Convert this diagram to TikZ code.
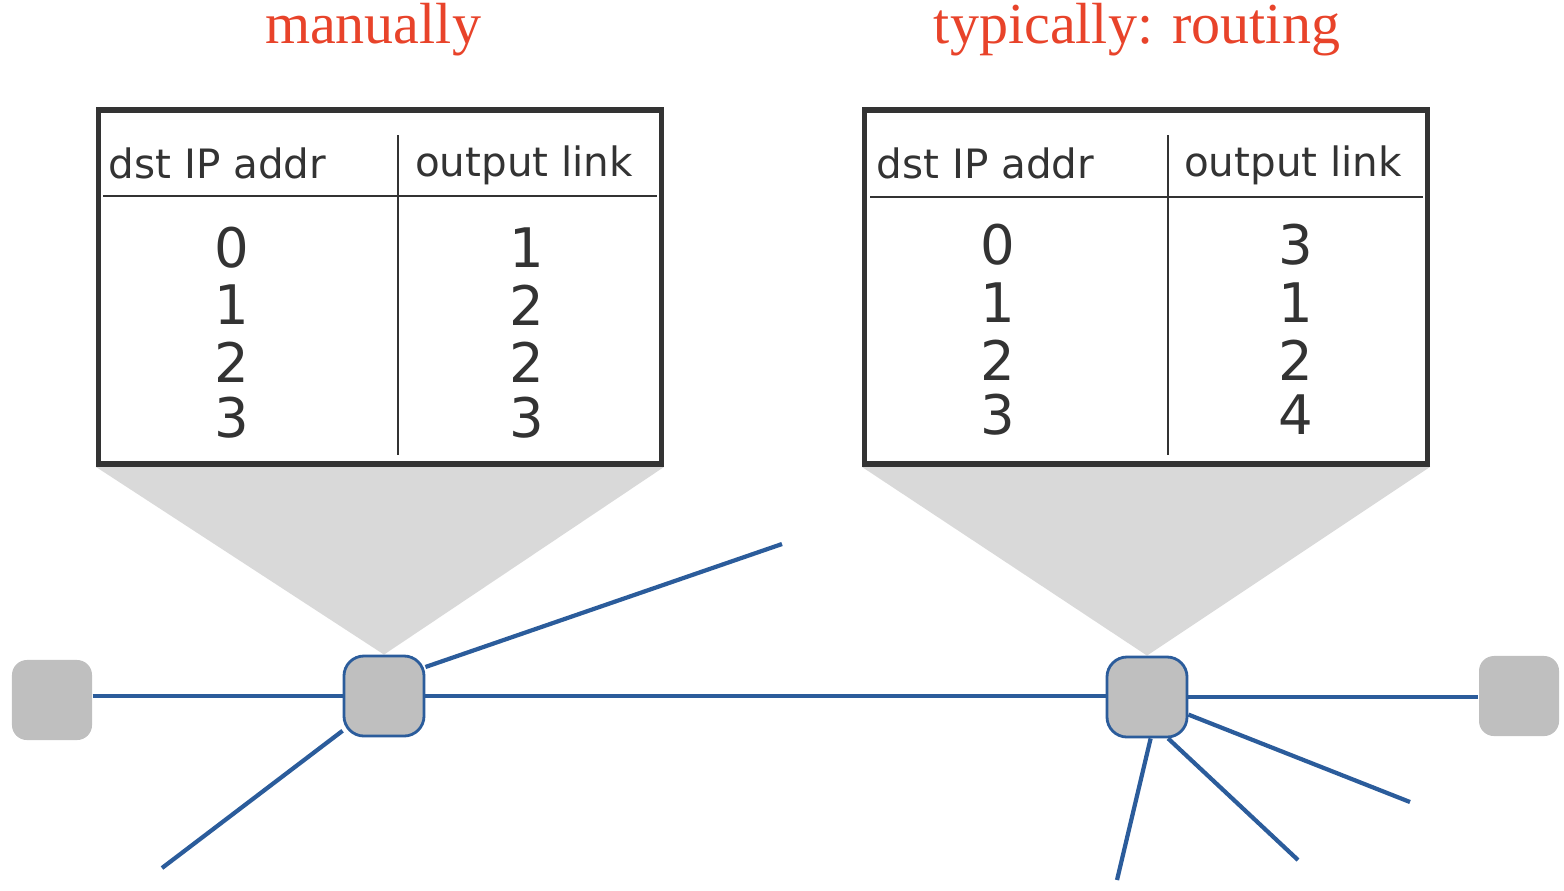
\documentclass[tikz,border=0pt]{standalone}
\usepackage{fontspec}
\setmainfont{Liberation Serif}
\newfontfamily\tabfont{DejaVu Sans}
\usepackage{tikz}
\usetikzlibrary{backgrounds}
\definecolor{titlered}{RGB}{232,67,42}
\definecolor{linkblue}{RGB}{43,92,155}
\definecolor{boxgray}{RGB}{191,191,191}
\definecolor{funnelgray}{RGB}{217,217,217}
\definecolor{tabline}{RGB}{51,51,51}
\tikzset{title/.style={text=titlered, font=\fontsize{16.5}{20}\selectfont},
  fwdtable/.style={draw=tabline, line width=1.5pt, minimum width=5.63cm, minimum height=3.54cm, inner sep=0pt},
  tabrule/.style={draw=tabline, line width=0.7pt},
  head/.style={font=\tabfont\fontsize{11.5}{14}\selectfont, text=tabline, inner sep=0pt},
  entry/.style={font=\tabfont\fontsize{15.5}{18}\selectfont, text=tabline, inner sep=0pt},
  router/.style={draw=linkblue, line width=0.8pt, fill=boxgray, rounded corners=0.2cm, minimum size=0.8cm},
  host/.style={fill=boxgray, rounded corners=0.15cm, minimum size=0.8cm},
  link/.style={draw=linkblue, line width=1.2pt},
  funnel/.style={fill=funnelgray}}
\begin{document}
\begin{tikzpicture}[x=0.01cm, y=-0.01cm]
\useasboundingbox (0,0) rectangle (1564,890);
\node[title] (tman) at (373,30) {manually};
\node[title] (trout) at (1137,30) {typically: routing};
\node[fwdtable] (lt) at (380,287) {};
\node[fwdtable] (rt) at (1146,287) {};
\draw[tabrule] (103,196) -- (657,196); \draw[tabrule] (398,135) -- (398,455);
\draw[tabrule] (870,197) -- (1423,197); \draw[tabrule] (1168,135) -- (1168,455);
\node[head, anchor=west] (lh1) at (108,163) {dst IP addr};
\node[head] (lh2) at (524,165) {output link};
\node[head, anchor=west] (rh1) at (876,163) {dst IP addr};
\node[head] (rh2) at (1293,165) {output link};
\foreach \i/\a/\b/\y in {0/0/1/248, 1/1/2/305, 2/2/2/362, 3/3/3/418} {
  \node[entry] (la\i) at (232,\y) {\a}; \node[entry] (lb\i) at (527,\y) {\b};
}
\foreach \i/\a/\b/\y in {0/0/3/245, 1/1/1/303, 2/2/2/360, 3/3/4/415} {
  \node[entry] (ra\i) at (998,\y) {\a}; \node[entry] (rb\i) at (1296,\y) {\b};
}
\node[router] (lr) at (384,696) {};
\node[router] (rr) at (1147,697) {};
\node[host] (lhost) at (52,700) {};
\node[host] (rhost) at (1519,696) {};
\coordinate (le1) at (782,544); \coordinate (le2) at (162,868);
\coordinate (re1) at (1410,802); \coordinate (re2) at (1298,860); \coordinate (re3) at (1117,880);
\begin{scope}[on background layer]
\fill[funnel] (lt.south west) -- (lt.south east) -- (lr.north) -- cycle;
\fill[funnel] (rt.south west) -- (rt.south east) -- (rr.north) -- cycle;
\end{scope}
\draw[link] (lhost.east |- lr.west) -- (lr.west);
\draw[link] (lr.east) -- (lr.east -| rr.west);
\draw[link] (rr.east) -- (rr.east -| rhost.west);
\draw[link] (lr.35) -- (le1); \draw[link] (lr.220) -- (le2);
\draw[link] (rr.337) -- (re1); \draw[link] (rr.297) -- (re2); \draw[link] (rr.275) -- (re3);
\end{tikzpicture}
\end{document}
